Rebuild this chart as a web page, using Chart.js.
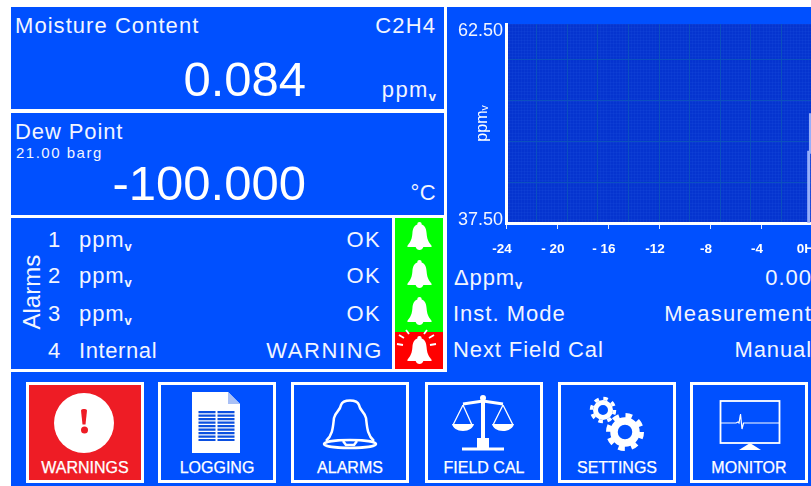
<!DOCTYPE html>
<html>
<head>
<meta charset="utf-8">
<style>
  html, body { margin: 0; padding: 0; background: #fff; }
  body { width: 811px; height: 486px; overflow: hidden; position: relative; font-family: "Liberation Sans", Arial, sans-serif; color: #fff; }
  .box { position: absolute; background: #0050ff; }
  .t { position: absolute; line-height: 1; white-space: nowrap; font-size: 22px; letter-spacing: .9px; color: #f2f5ff; }
  .r { text-align: right; }
  .big { font-size: 49px; letter-spacing: 0; color: #fff; }
  sub { font-size: 13px; font-weight: bold; line-height: 0; vertical-align: -4px; letter-spacing: 0; }
  .btn { position: absolute; top: 382px; width: 112px; height: 95px; border: 3px solid #fff; background: #0050ff; }
  .btn span { position: absolute; left: 0; right: 0; top: 75px; text-align: center; font-size: 16px; line-height: 1; -webkit-text-stroke: .25px #fff; }
  svg { position: absolute; left: 0; top: 0; }
  #chartWrap { position: absolute; left: 447px; top: 7px; width: 370px; height: 262px; }
</style>
</head>
<body>
<svg width="0" height="0">
  <defs>
    <symbol id="bell" viewBox="0 0 26 30">
      <path d="M13 0c1.600 0 2.400 1 2.200 2.600C19 4 20 7 20.400 12c.4 5 1.400 8.400 5.100 12.500c.6 .8 .2 1.500-.8 1.500H17c-.6 2-2.200 3-4 3s-3.400-1-4-3H1.300c-1 0-1.400-.7-.8-1.500C4.200 20.400 5.200 17 5.600 12 6 7 7 4 10.800 2.600 10.600 1 11.400 0 13 0z" fill="#fff"/>
    </symbol>
  </defs>
</svg>

<div class="box" style="left:11px;top:7px;width:433px;height:102px"></div>
<div class="box" style="left:11px;top:113px;width:433px;height:102px"></div>
<div class="box" style="left:11px;top:218px;width:381px;height:151px"></div>
<div class="box" style="left:395px;top:218px;width:48px;height:114px;background:#00ff00"></div>
<div class="box" style="left:395px;top:332px;width:48px;height:37px;background:#ff0000"></div>
<div class="box" style="left:447px;top:7px;width:364px;height:365px"></div>
<div class="box" style="left:11px;top:372px;width:800px;height:114px"></div>

<div class="t" style="left:15px;top:15px;letter-spacing:1.05px">Moisture Content</div>
<div class="t r" style="right:375px;top:15px;letter-spacing:1.1px">C2H4</div>
<div class="t big r" style="right:505px;top:55px">0.084</div>
<div class="t r" style="right:375px;top:79px;letter-spacing:1.4px">ppm<sub>v</sub></div>

<div class="t" style="left:15px;top:121px">Dew Point</div>
<div class="t" style="left:16px;top:145px;font-size:15px;letter-spacing:1.5px">21.00 barg</div>
<div class="t big r" style="right:505px;top:159px">-100.000</div>
<div class="t r" style="right:375px;top:182px;letter-spacing:.4px">°C</div>

<div class="t" style="left:-6px;top:280px;width:75px;font-size:24px;letter-spacing:0;transform:rotate(-90deg)">Alarms</div>
<div class="t" style="left:48px;top:229px;letter-spacing:0">1</div>
<div class="t" style="left:79px;top:229px">ppm<sub>v</sub></div>
<div class="t r" style="right:430px;top:229px;letter-spacing:1.4px">OK</div>
<div class="t" style="left:48px;top:265px;letter-spacing:0">2</div>
<div class="t" style="left:79px;top:265px">ppm<sub>v</sub></div>
<div class="t r" style="right:430px;top:265px;letter-spacing:1.4px">OK</div>
<div class="t" style="left:48px;top:303px;letter-spacing:0">3</div>
<div class="t" style="left:79px;top:303px">ppm<sub>v</sub></div>
<div class="t r" style="right:430px;top:303px;letter-spacing:1.4px">OK</div>
<div class="t" style="left:48px;top:340px;letter-spacing:0">4</div>
<div class="t" style="left:79px;top:340px;letter-spacing:.6px">Internal</div>
<div class="t r" style="right:428px;top:340px;letter-spacing:1.6px">WARNING</div>

<svg width="811" height="486" style="pointer-events:none">
  <use href="#bell" x="407" y="222" width="25" height="29"/>
  <use href="#bell" x="407" y="260" width="25" height="29"/>
  <use href="#bell" x="407" y="297" width="25" height="29"/>
  <use href="#bell" x="407" y="336" width="25" height="29"/>
  <g stroke="#fff" stroke-width="1.800" fill="none">
    <path d="M403 345l-6-1M404 338l-5-3M409 334l-3-4M430 345l6-1M429 338l5-3M424 334l3-4"/>
  </g>
</svg>

<div class="t" style="left:454px;top:267px;letter-spacing:.9px">Δppm<sub>v</sub></div>
<div class="t r" style="right:-1px;top:267px;letter-spacing:1px">0.00</div>
<div class="t" style="left:453px;top:303px;letter-spacing:1px">Inst. Mode</div>
<div class="t r" style="right:-1px;top:303px;letter-spacing:1.2px">Measurement</div>
<div class="t" style="left:453px;top:339px;letter-spacing:.9px">Next Field Cal</div>
<div class="t r" style="right:-1px;top:339px;letter-spacing:.9px">Manual</div>

<div id="chartWrap"><canvas id="trend" width="370" height="262"></canvas></div>

<div class="btn" style="left:26px;background:#ee1c25"><span>WARNINGS</span></div>
<div class="btn" style="left:158px"><span>LOGGING</span></div>
<div class="btn" style="left:291px"><span>ALARMS</span></div>
<div class="btn" style="left:425px"><span>FIELD CAL</span></div>
<div class="btn" style="left:558px"><span>SETTINGS</span></div>
<div class="btn" style="left:690px"><span>MONITOR</span></div>

<svg width="811" height="486" style="pointer-events:none">
  <!-- warnings -->
  <circle cx="84" cy="423" r="30" fill="#fff"/>
  <path d="M81 410.500c0-2 6-2 6 0l-1.500 14h-3z" fill="#ee1c25"/>
  <circle cx="84.500" cy="430" r="3.500" fill="#ee1c25"/>
  <!-- logging -->
  <path d="M192 392h36l12 12v49h-48z" fill="#fff"/>
  <path d="M228 392l12 12h-12z" fill="#a9c0f5"/>
  <g stroke="#0b4fe0" stroke-width="2.200" stroke-dasharray="2.200 1.300" fill="none">
    <path d="M207 411v30M226 411v30" stroke-width="17"/>
  </g>
  <!-- alarms bell -->
  <g fill="none" stroke="#fff" stroke-width="2.500" stroke-linejoin="round">
    <path d="M326 441c7-6 7-15 8-23 2-7 6-7 7-13 2-6 16-6 18 0 1 6 5 6 7 13 1 8 1 17 8 23"/>
    <ellipse cx="350" cy="444" rx="26" ry="4"/>
    <path d="M343 441l3 4h8l3-4"/>
  </g>
  <!-- field cal -->
  <g fill="none" stroke="#fff" stroke-width="2">
    <path d="M483 402v38" stroke-width="4"/>
    <path d="M463 404l20-3 20 3" stroke-width="3"/>
    <path d="M463 405l-10 20M463 405l9 20M503 405l-10 20M503 405l10 20" stroke-width="1.300"/>
    <path d="M462 449h42" stroke-width="3"/>
  </g>
  <path d="M452 424h22c-1 4-5 7-11 7s-10-3-11-7zM492 424h22c-1 4-5 7-11 7s-10-3-11-7zM477 438h12v11h-12z" fill="#fff"/>
  <circle cx="483" cy="398" r="3" fill="#fff"/>
  <!-- settings -->
  <g fill="none" stroke="#fff">
    <circle cx="603" cy="410" r="7.500" stroke-width="5"/>
    <circle cx="603" cy="410" r="11.500" stroke-width="3.500" stroke-dasharray="4.500 4.530"/>
    <circle cx="625" cy="432" r="11" stroke-width="7.500"/>
    <circle cx="625" cy="432" r="16.500" stroke-width="5" stroke-dasharray="6.500 6.460"/>
  </g>
  <!-- monitor -->
  <g fill="none" stroke="#fff">
    <rect x="720.500" y="401" width="59" height="42" stroke-width="1.800"/>
    <path d="M721 423h15l2-1 1 1 1.500-9 1.500 15 1.500-6h36" stroke-width="1.200"/>
  </g>
  <path d="M739 450l11-7 11 7z" fill="#fff"/>
</svg>

<script src="https://cdn.jsdelivr.net/npm/chart.js@4/dist/chart.umd.min.js"></script>
<script>
const traceHours = [-0.26, -0.26, -0.12, -0.12];
const traceValues = [37.5, 46.4, 46.4, 51.3];

const xTickLabels = { "-24": "-24", "-20": "- 20", "-16": "- 16", "-12": "-12", "-8": "-8", "-4": "-4", "0": "  0Hrs" };
const yAxisLabels = [
  { value: 61.6, label: "62.50" },
  { value: 37.9, label: "37.50" },
];
const yGridValues = [42.65, 47.8, 52.95, 58.1];

const GRID_MAJOR = "#0b50bf";
const GRID_MINOR = "rgba(40, 100, 235, 0.14)";

const plotBackground = {
  id: "plotBackground",
  beforeDraw(chart) {
    const a = chart.chartArea;
    chart.ctx.fillStyle = "#0534cf";
    chart.ctx.fillRect(a.left, a.top, a.width, a.height);
  },
};

function gridOnly(axis, position, extra) {
  return {
    type: "linear",
    axis,
    position,
    min: axis === "x" ? -24 : 37.5,
    max: axis === "x" ? 0 : 62.5,
    afterFit: (s) => {
      if (axis === "x") s.height = 0; else s.width = 0;
      s.paddingLeft = s.paddingRight = s.paddingTop = s.paddingBottom = 0;
    },
    border: { display: false },
    ticks: { display: false, autoSkip: false, maxTicksLimit: 200 },
    ...extra,
  };
}

new Chart(document.getElementById("trend"), {
  type: "line",
  data: {
    datasets: [
      {
        data: traceHours.map((h, i) => ({ x: h, y: traceValues[i] })),
        borderColor: "rgba(165, 187, 255, 0.9)",
        borderWidth: 3,
        pointRadius: 0,
        tension: 0,
      },
    ],
  },
  options: {
    responsive: false,
    animation: false,
    layout: { padding: { top: 17, right: 5, left: 0, bottom: 0 } },
    plugins: { legend: { display: false }, tooltip: { enabled: false } },
    scales: {
      xMinor: gridOnly("x", "bottom", {
        ticks: { display: false, stepSize: 0.24, autoSkip: false, maxTicksLimit: 200 },
        grid: { color: GRID_MINOR, drawTicks: false },
      }),
      yMinor: gridOnly("y", "left", {
        ticks: { display: false, stepSize: 0.4, autoSkip: false, maxTicksLimit: 200 },
        grid: { color: GRID_MINOR, drawTicks: false },
      }),
      xMajor: gridOnly("x", "bottom", {
        ticks: { display: false, stepSize: 2.4, autoSkip: false, maxTicksLimit: 200 },
        grid: { color: GRID_MAJOR, drawTicks: false },
      }),
      yMajor: gridOnly("y", "left", {
        afterBuildTicks: (s) => { s.ticks = yGridValues.map((value) => ({ value })); },
        grid: { color: GRID_MAJOR, drawTicks: false },
      }),
      x: {
        type: "linear",
        position: "bottom",
        min: -24,
        max: 0,
        afterFit: (s) => { s.height = 46; s.paddingLeft = 0; s.paddingRight = 0; },
        border: { color: "#fff", width: 3 },
        grid: { drawOnChartArea: false, color: "#dfe7ff", tickLength: 6 },
        ticks: {
          stepSize: 4,
          autoSkip: false,
          maxRotation: 0,
          color: "#fff",
          padding: 12,
          labelOffset: -4,
          font: { family: "'Liberation Sans'", size: 13.5, weight: "bold" },
          callback: (v) => xTickLabels[String(v)],
        },
      },
      y: {
        type: "linear",
        position: "left",
        min: 37.5,
        max: 62.5,
        afterFit: (s) => { s.width = 59; s.paddingTop = 0; s.paddingBottom = 0; },
        afterBuildTicks: (s) => { s.ticks = yAxisLabels.map((t) => ({ value: t.value })); },
        afterTickToLabelConversion: (s) => { s.ticks.forEach((t, i) => { t.label = yAxisLabels[i].label; }); },
        border: { color: "#fff", width: 3 },
        grid: { display: false, drawTicks: false },
        title: {
          display: true,
          text: "ppmᵥ",
          color: "#fff",
          padding: { top: 26, bottom: 0 },
          font: { family: "'Liberation Sans','DejaVu Sans'", size: 16 },
        },
        ticks: {
          color: "#f2f5ff",
          padding: 3,
          font: { family: "'Liberation Sans'", size: 18 },
        },
      },
    },
  },
  plugins: [plotBackground],
});
</script>
</body>
</html>
